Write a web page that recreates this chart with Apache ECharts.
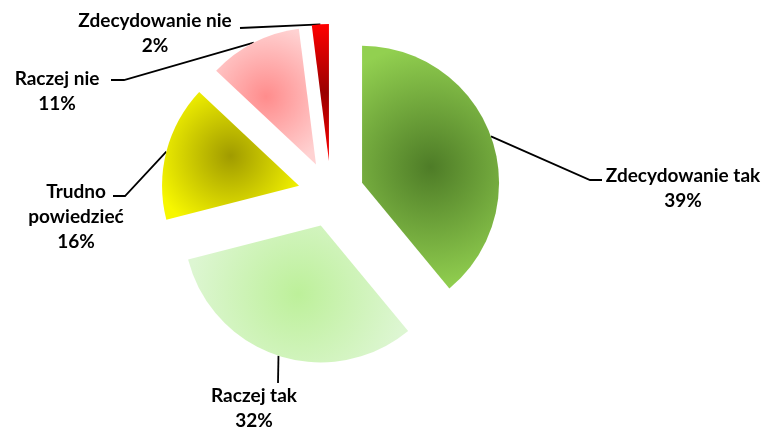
<!DOCTYPE html>
<html>
<head>
<meta charset="utf-8">
<script src="https://cdn.jsdelivr.net/npm/echarts@6/dist/echarts.min.js"></script>
<style>
  html, body { margin: 0; padding: 0; background: #ffffff; }
  #chart { width: 769px; height: 432px; }
</style>
</head>
<body>
<div id="chart"></div>
<script>
// Survey answers, clockwise from 12 o'clock
const categories = ['Zdecydowanie tak', 'Raczej tak', 'Trudno\npowiedzieć', 'Raczej nie', 'Zdecydowanie nie'];
const shares = [39, 32, 16, 11, 2];

// Where each label block sits, and the elbow/end of its leader line
const labelCenters = [[683, 188], [254, 408], [76, 217], [57, 91], [155, 33]];
const leaderTails = [
  [[590, 180], [602, 180]],
  [[278, 383], [278, 383]],
  [[125, 196], [113, 196]],
  [[124, 80], [111, 80]],
  [[240, 28], [240, 28]]
];

// Slice fills: dark centre fading to a lighter rim
const sliceFills = [
  { type: 'radial', inner: '#4e7c27', outer: '#92d050', r: 0.9 },
  { type: 'radial', inner: '#bdf09a', outer: '#ddf6d2', r: 0.8 },
  { type: 'radial', inner: '#a09b00', outer: '#f7f700', r: 0.62 },
  { type: 'radial', inner: '#ff8c8c', outer: '#ffd2d2', r: 0.72 },
  { type: 'linear', inner: '#9a0000', outer: '#ff0000' }
];

const PIE_CENTER = [331, 194];
const PIE_RADIUS = 137;
const EXPLODE = 33;

function makeFill(f) {
  if (f.type === 'linear') {
    return {
      type: 'linear', x: 0, y: 0, x2: 0, y2: 1,
      colorStops: [
        { offset: 0, color: f.outer },
        { offset: 0.5, color: f.inner },
        { offset: 1, color: f.outer }
      ]
    };
  }
  return {
    type: 'radial', x: 0.5, y: 0.5, r: f.r,
    colorStops: [
      { offset: 0, color: f.inner },
      { offset: 1, color: f.outer }
    ]
  };
}

const total = shares.reduce(function (a, b) { return a + b; }, 0);

// One pie layer per slice so each can be pulled out along its own bisector
const series = shares.map(function (v, i) {
  let before = 0;
  for (let k = 0; k < i; k++) before += shares[k];
  const midDeg = 90 - 360 * (before + v / 2) / total;
  const rad = midDeg * Math.PI / 180;
  const cx = PIE_CENTER[0] + EXPLODE * Math.cos(rad);
  const cy = PIE_CENTER[1] - EXPLODE * Math.sin(rad);

  const data = shares.map(function (w, j) {
    const own = j === i;
    return {
      name: categories[j],
      value: w,
      itemStyle: own ? { color: makeFill(sliceFills[j]), borderWidth: 0 }
                     : { color: 'rgba(0,0,0,0)', borderWidth: 0 },
      label: { show: own },
      labelLine: { show: own }
    };
  });

  return {
    type: 'pie',
    center: [cx, cy],
    radius: PIE_RADIUS,
    startAngle: 90,
    clockwise: true,
    silent: true,
    avoidLabelOverlap: false,
    emphasis: { disabled: true },
    label: {
      position: 'outside',
      formatter: function (p) { return p.name + '\n' + p.value + '%'; },
      fontFamily: 'Lato',
      fontWeight: 'bold',
      fontSize: 19,
      lineHeight: 25,
      color: '#000000',
      align: 'center'
    },
    labelLine: {
      length: 20,
      length2: 10,
      lineStyle: { color: '#000000', width: 1.8 }
    },
    labelLayout: function (p) {
      const c = labelCenters[i];
      const out = { x: c[0], y: c[1], align: 'center', verticalAlign: 'middle' };
      if (p.labelLinePoints && p.labelLinePoints.length) {
        out.labelLinePoints = [p.labelLinePoints[0]].concat(leaderTails[i]);
      }
      return out;
    },
    data: data
  };
});

const chart = echarts.init(document.getElementById('chart'), null, { renderer: 'canvas' });

chart.setOption({
  backgroundColor: '#ffffff',
  animation: false,
  series: series
});
</script>
</body>
</html>
